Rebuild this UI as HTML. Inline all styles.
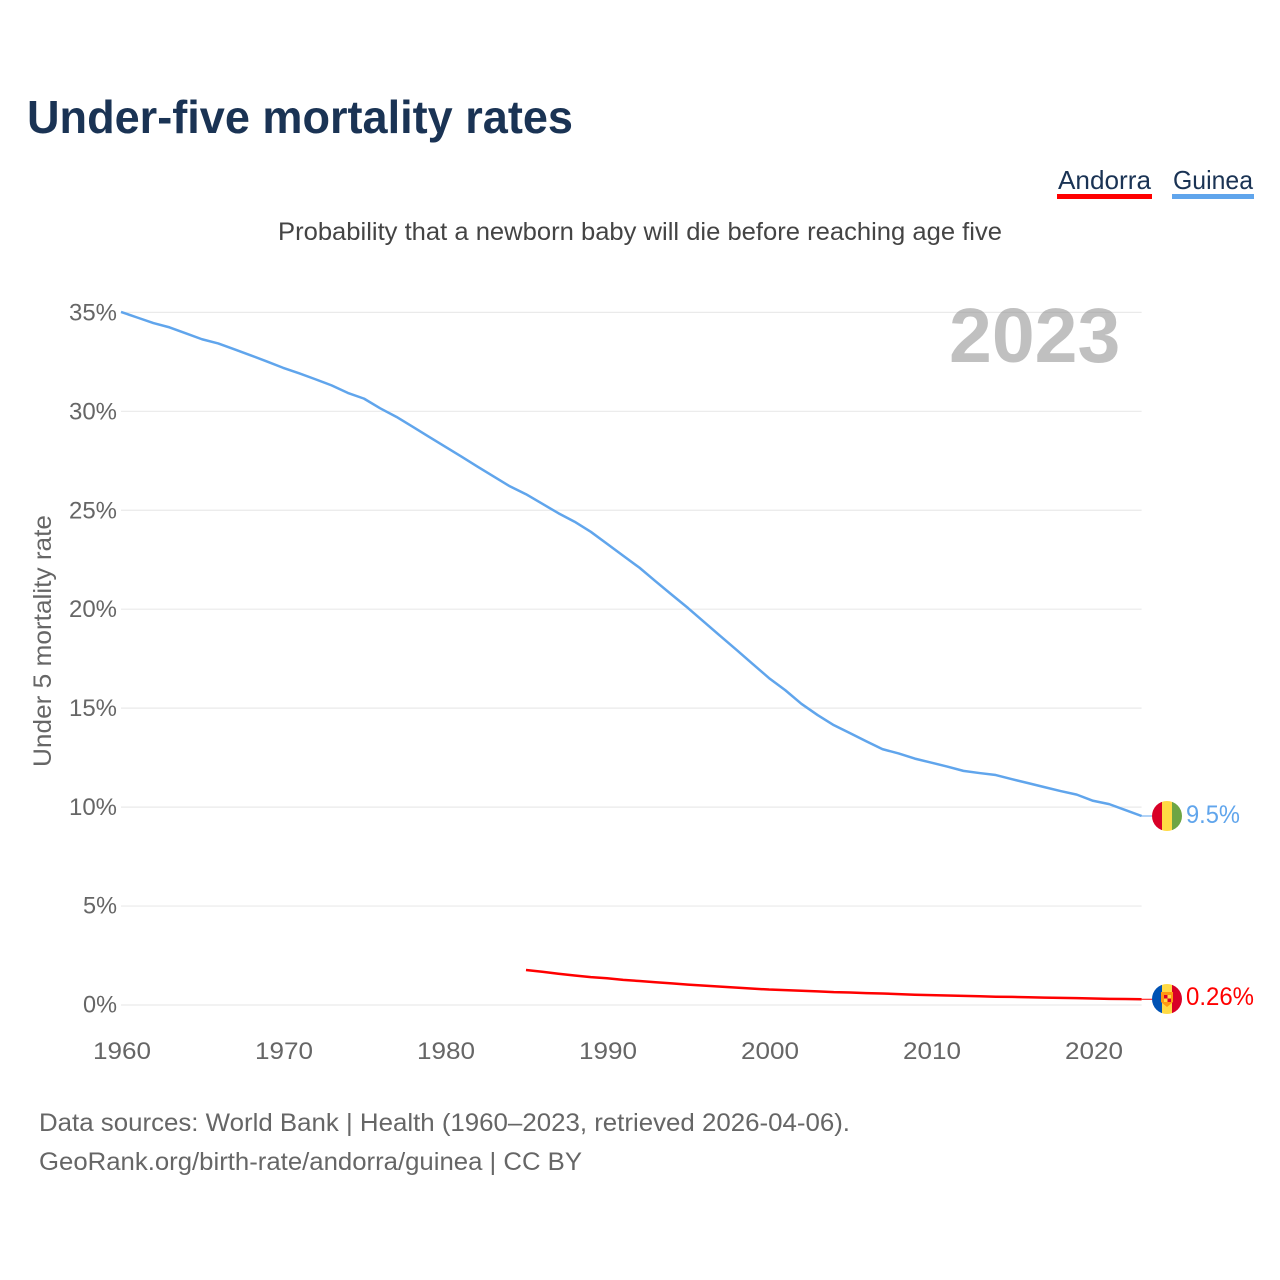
<!DOCTYPE html>
<html lang="en">
<head>
<meta charset="utf-8">
<title>Under-five mortality rates</title>
<style>
html,body{margin:0;padding:0;background:#fff;width:1280px;height:1280px;overflow:hidden}
svg{display:block}
text{font-family:"Liberation Sans",sans-serif}
</style>
</head>
<body>
<svg id="chart" width="1280" height="1280" viewBox="0 0 1280 1280" xmlns="http://www.w3.org/2000/svg">
  <defs>
    <clipPath id="flag-clip-a"><circle cx="1167" cy="999" r="15"/></clipPath>
    <clipPath id="flag-clip-g"><circle cx="1167" cy="816" r="15"/></clipPath>
  </defs>
  <text x="27" y="133" font-size="46" font-weight="700" fill="#1a3354" textLength="546" lengthAdjust="spacingAndGlyphs">Under-five mortality rates</text>

  <g>
    <text x="1058" y="189" font-size="26" fill="#1a3354" textLength="93" lengthAdjust="spacingAndGlyphs">Andorra</text>
    <rect x="1057" y="194" width="95" height="5" fill="#ff0000"/>
  </g>
  <g>
    <text x="1173" y="189" font-size="26" fill="#1a3354" textLength="80" lengthAdjust="spacingAndGlyphs">Guinea</text>
    <rect x="1172" y="194" width="82" height="5" fill="#60a5ec"/>
  </g>

  <text x="278" y="240" font-size="25" fill="#444444" textLength="724" lengthAdjust="spacingAndGlyphs">Probability that a newborn baby will die before reaching age five</text>
  <text transform="translate(51 767) rotate(-90)" x="0" y="0" font-size="25" fill="#666666" textLength="252" lengthAdjust="spacingAndGlyphs">Under 5 mortality rate</text>

  <g id="grid"></g>
  <g id="y-ticks"></g>
  <g id="x-ticks"></g>

  <text x="949" y="362" font-size="77" font-weight="700" fill="#8c8c8c" fill-opacity="0.55">2023</text>

  <g id="series"></g>

  <g clip-path="url(#flag-clip-g)">
    <rect x="1152" y="801" width="10" height="30" fill="#d80027"/>
    <rect x="1162" y="801" width="10" height="30" fill="#ffda44"/>
    <rect x="1172" y="801" width="10" height="30" fill="#6da544"/>
  </g>
  <text x="1186" y="823" font-size="25" fill="#60a5ec" textLength="54" lengthAdjust="spacingAndGlyphs">9.5%</text>

  <g clip-path="url(#flag-clip-a)">
    <rect x="1152" y="984" width="10" height="30" fill="#0052b4"/>
    <rect x="1162" y="984" width="10" height="30" fill="#ffda44"/>
    <rect x="1172" y="984" width="10" height="30" fill="#d80027"/>
    <path d="M1161 992h12v10l-6 5-6-5z" fill="#ff9811"/>
    <rect x="1164" y="995" width="3.5" height="3.5" fill="#d80027"/>
    <rect x="1167.5" y="998.5" width="3.5" height="3.5" fill="#d80027"/>
    <rect x="1167.5" y="995" width="3.5" height="3.5" fill="#ffda44"/>
    <rect x="1164" y="998.5" width="3.5" height="3.5" fill="#ffda44"/>
  </g>
  <text x="1186" y="1005" font-size="25" fill="#ff0000" textLength="68" lengthAdjust="spacingAndGlyphs">0.26%</text>

  <text x="39" y="1131" font-size="25" fill="#666666" textLength="811" lengthAdjust="spacingAndGlyphs">Data sources: World Bank | Health (1960–2023, retrieved 2026-04-06).</text>
  <text x="39" y="1170" font-size="25" fill="#666666" textLength="543" lengthAdjust="spacingAndGlyphs">GeoRank.org/birth-rate/andorra/guinea | CC BY</text>
</svg>
<script>
const guineaStartYear = 1960;
const guineaValues = [35.02,34.74,34.46,34.24,33.94,33.64,33.43,33.13,32.83,32.52,32.2,31.92,31.62,31.31,30.93,30.64,30.15,29.72,29.22,28.72,28.22,27.72,27.21,26.71,26.21,25.81,25.33,24.85,24.42,23.91,23.31,22.7,22.1,21.41,20.73,20.06,19.35,18.64,17.94,17.23,16.52,15.91,15.22,14.65,14.14,13.74,13.33,12.93,12.71,12.45,12.25,12.05,11.83,11.72,11.62,11.41,11.21,11.01,10.81,10.63,10.32,10.15,9.85,9.55];
const andorraStartYear = 1985;
const andorraValues = [1.77,1.68,1.58,1.49,1.41,1.35,1.27,1.21,1.15,1.09,1.03,0.98,0.93,0.88,0.83,0.78,0.75,0.72,0.69,0.65,0.63,0.6,0.58,0.55,0.52,0.5,0.48,0.46,0.44,0.42,0.41,0.39,0.37,0.36,0.35,0.33,0.31,0.3,0.29];
const yTickValues = [0,5,10,15,20,25,30,35];
const xTickYears = [1960,1970,1980,1990,2000,2010,2020];

const NS = 'http://www.w3.org/2000/svg';
function xScale(year){ return 121 + (year - 1960) * 16.2; }
function yScale(v){ return 1005 - v * 19.79; }

const grid = document.getElementById('grid');
const yTicks = document.getElementById('y-ticks');
const xTicks = document.getElementById('x-ticks');
const series = document.getElementById('series');

yTickValues.forEach(function(v){
  const line = document.createElementNS(NS, 'line');
  
  
  line.setAttribute('x1', xScale(1960));
  line.setAttribute('x2', xScale(2023));
  line.setAttribute('y1', yScale(v));
  line.setAttribute('y2', yScale(v));
  line.setAttribute('stroke', '#eaeaea');
  line.setAttribute('stroke-width', '1.2');
  grid.appendChild(line);

  const t = document.createElementNS(NS, 'text');
  
  
  t.setAttribute('x', 117);
  t.setAttribute('y', yScale(v) + (v < 10 ? 7.5 : 8));
  t.setAttribute('text-anchor', 'end');
  t.setAttribute('font-size', '24');
  t.setAttribute('fill', '#666666');
  t.setAttribute('textLength', v >= 10 ? 48 : 34);
  t.setAttribute('lengthAdjust', 'spacingAndGlyphs');
  t.textContent = v + '%';
  yTicks.appendChild(t);
});

xTickYears.forEach(function(year){
  const t = document.createElementNS(NS, 'text');
  
  
  t.setAttribute('x', xScale(year) + 1);
  t.setAttribute('y', 1059);
  t.setAttribute('text-anchor', 'middle');
  t.setAttribute('font-size', '24');
  t.setAttribute('fill', '#666666');
  t.setAttribute('textLength', 58);
  t.setAttribute('lengthAdjust', 'spacingAndGlyphs');
  t.textContent = year;
  xTicks.appendChild(t);
});

function pointsFor(values, startYear){
  return values.map(function(v, i){
    return xScale(startYear + i).toFixed(2) + ',' + yScale(v).toFixed(2);
  }).join(' ');
}

const guineaLine = document.createElementNS(NS, 'polyline');


guineaLine.setAttribute('points', pointsFor(guineaValues, guineaStartYear));
guineaLine.setAttribute('fill', 'none');
guineaLine.setAttribute('stroke', '#60a5ec');
guineaLine.setAttribute('stroke-width', '2.5');
guineaLine.setAttribute('stroke-linejoin', 'round');
series.appendChild(guineaLine);

const andorraLine = document.createElementNS(NS, 'polyline');


andorraLine.setAttribute('points', pointsFor(andorraValues, andorraStartYear));
andorraLine.setAttribute('fill', 'none');
andorraLine.setAttribute('stroke', '#ff0000');
andorraLine.setAttribute('stroke-width', '2.5');
andorraLine.setAttribute('stroke-linejoin', 'round');
series.appendChild(andorraLine);

const guineaStub = document.createElementNS(NS, 'line');


guineaStub.setAttribute('x1', xScale(2023));
guineaStub.setAttribute('x2', 1153);
guineaStub.setAttribute('y1', yScale(guineaValues[guineaValues.length - 1]));
guineaStub.setAttribute('y2', yScale(guineaValues[guineaValues.length - 1]));
guineaStub.setAttribute('stroke', '#60a5ec');
guineaStub.setAttribute('stroke-width', '1');
series.appendChild(guineaStub);

const andorraStub = document.createElementNS(NS, 'line');


andorraStub.setAttribute('x1', xScale(2023));
andorraStub.setAttribute('x2', 1153);
andorraStub.setAttribute('y1', yScale(andorraValues[andorraValues.length - 1]));
andorraStub.setAttribute('y2', yScale(andorraValues[andorraValues.length - 1]));
andorraStub.setAttribute('stroke', '#ff0000');
andorraStub.setAttribute('stroke-width', '1');
series.appendChild(andorraStub);
</script>
</body>
</html>
